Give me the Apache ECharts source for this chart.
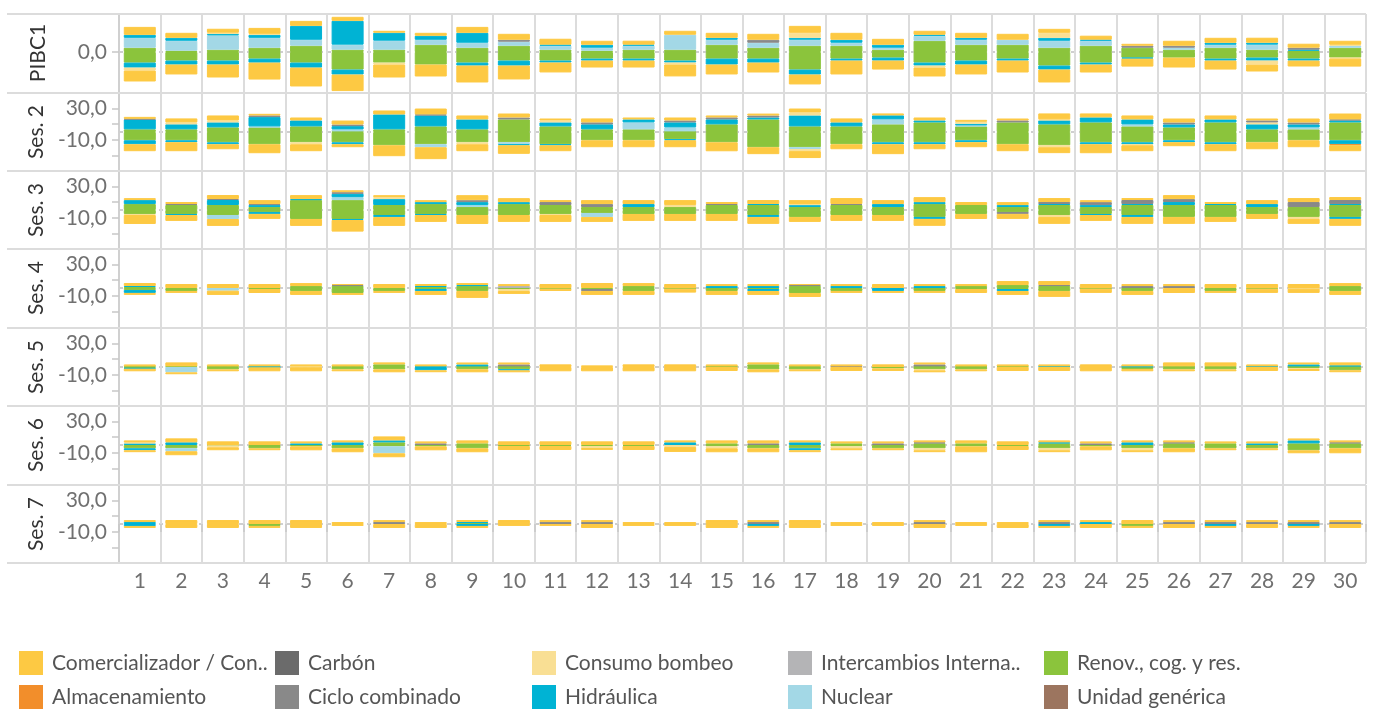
<!DOCTYPE html>
<html>
<head>
<meta charset="utf-8">
<script src="https://cdn.jsdelivr.net/npm/echarts@6/dist/echarts.min.js"></script>
<style>
html,body{margin:0;padding:0;background:#fff;}
#chart{width:1374px;height:709px;}
</style>
</head>
<body>
<div id="chart"></div>
<script>
// ---------------- DATA ----------------
const ROWS = ['PIBC1', 'Ses. 2', 'Ses. 3', 'Ses. 4', 'Ses. 5', 'Ses. 6', 'Ses. 7'];
const DAYS = ['1','2','3','4','5','6','7','8','9','10','11','12','13','14','15','16','17','18','19','20','21','22','23','24','25','26','27','28','29','30'];
const ZERO_ROW = [0,0,0,0,0,0,0,0,0,0,0,0,0,0,0,0,0,0,0,0,0,0,0,0,0,0,0,0,0,0];

// Comercializador / Consumidor (sell > 0, buy < 0), one row of 30 per session
const COM_SELL = [
  [10.2,6.4,5.1,7.6,6.4,5.1,2.5,3.8,7.6,7.6,7.6,5.1,5.1,5.1,6.4,7.6,8.9,8.9,7.6,5.1,6.4,7.6,5.1,5.1,2.5,6.4,6.4,6.4,5.1,5.1],
  [2.5,5.1,6.4,2.1,3.8,5.1,5.1,7.6,5.1,5.1,2.5,5.1,2.5,3.8,2.5,2.5,5.1,5.1,2.5,3.8,2.5,2.5,7.6,5.1,5.1,5.1,5.1,2.5,5.1,7.6],
  [2.5,2.5,5.1,5.1,5.1,2.5,2.5,2.5,6.4,5.1,2.5,5.1,5.1,6.4,2.5,5.1,5.1,7.6,5.1,6.4,3.8,3.8,5.1,2.5,2.5,5.1,2.5,5.1,5.1,3.8],
  [3.8,5.1,5.1,5.1,3.8,1.3,5.1,2.5,2.5,2.5,5.1,6.4,3.8,5.1,2.5,2.5,1.3,2.5,5.1,2.5,2.5,5.1,5.1,5.1,2.5,2.5,5.1,5.1,5.1,3.8],
  [2.5,5.1,2.5,2.5,2.5,2.5,2.5,2.5,2.5,2.5,3.4,2.1,3.4,3.4,2.5,2.5,2.5,2.5,3.4,2.5,2.5,2.5,2.5,3.4,2.5,5.1,5.1,2.5,2.5,3.8],
  [2.5,5.1,4.7,4.7,2.5,2.5,5.1,2.5,3.8,4.7,4.7,4.7,4.7,2.5,3.8,3.8,2.5,2.5,2.5,2.5,3.8,4.7,2.5,2.5,2.5,2.5,2.5,2.5,2.5,2.5],
  [2.5,5.1,5.1,5.1,5.1,2.5,2.5,2.5,2.5,5.1,2.5,2.5,2.5,2.5,5.1,2.5,5.1,2.5,2.5,2.5,2.5,2.5,2.5,2.5,5.1,2.5,2.5,2.5,2.5,2.5]
];
const COM_BUY = [
  [-14,-12.7,-16.6,-21.7,-24.2,-21.2,-16.6,-15.3,-21.7,-17.8,-12.7,-8.9,-8.9,-15.3,-12.7,-12.7,-12.7,-17.8,-11.5,-11.5,-12.7,-15.3,-16.6,-10.2,-10.2,-12.7,-11.5,-8.9,-7.6,-10.2],
  [-8.9,-11.5,-6.4,-11.5,-8.9,-3.8,-14,-15.3,-8.9,-11,-7.6,-8.9,-8.9,-8.9,-11.5,-8.9,-8.9,-6.4,-12.7,-6.4,-6.4,-8.9,-7.6,-11.5,-7.6,-5.1,-8.9,-8.9,-8.9,-7.6],
  [-11.5,-7.6,-8.9,-6.4,-8.9,-14.9,-11.5,-8.9,-11.5,-8.9,-8.9,-6.4,-8.9,-8.9,-8.9,-8.9,-6.4,-7.6,-7.6,-8.9,-6.4,-6.4,-8.9,-7.6,-8.9,-8.9,-6.4,-6.4,-6.4,-8.9],
  [-2.5,-2.5,-5.5,-5.1,-5.1,-2.5,-2.5,-5.1,-8.9,-3.8,-3,-5.1,-5.1,-5.1,-5.1,-5.1,-5.1,-2.5,-2.5,-2.5,-5.1,-5.1,-7.6,-5.5,-5.1,-6.4,-2.5,-5.5,-5.5,-5.1],
  [-3.4,-2.5,-2.5,-5.1,-5.1,-2.5,-3.8,-2.5,-3.8,-2.5,-5.5,-5.5,-5.5,-5.5,-5.1,-3.8,-2.5,-5.1,-3.4,-2.5,-2.5,-5.1,-5.1,-5.5,-3,-2.5,-2.5,-5.1,-2.5,-2.5],
  [-2.5,-5.1,-3.8,-2.5,-5.1,-5.1,-5.1,-5.1,-5.1,-5.1,-5.1,-2.5,-5.1,-6.4,-5.1,-5.1,-2.5,-2.5,-2.5,-2.5,-7.6,-5.1,-2.5,-5.1,-2.5,-5.1,-2.5,-2.5,-3.8,-6.4],
  [-2.5,-5.1,-5.1,-2.5,-5.1,-2.5,-5.1,-5.1,-2.5,-2.5,-2.5,-5.1,-2.5,-2.5,-5.1,-2.5,-5.1,-2.5,-2.5,-5.1,-2.5,-5.1,-2.5,-5.1,-2.5,-5.1,-2.5,-5.1,-2.5,-5.1]
];

// Renov., cog. y res.
const REN_SELL = [
  [5.5,1.7,3,5.5,8.1,3,3,9.3,5.5,8.1,3,1.7,3,3,9.3,5.5,8.1,8.1,3,14.4,9.3,9.3,5.5,8.1,5.5,3,5.5,3,1.7,5.5],
  [3.4,3.4,5.9,5.9,7.2,0.8,3.4,7.2,3.4,16.1,7.2,3.4,3.4,0.8,9.8,16.1,7.2,7.2,9.8,12.3,7.2,12.3,9.8,12.3,7.2,5.9,12.3,3.4,3.4,12.3],
  [7.6,6.4,6.4,3.8,12.7,12.7,6.4,7.6,3.8,7.6,6.4,3.8,3.8,3.8,6.4,6.4,3.8,6.4,3.8,7.6,6.4,3.8,6.4,3.8,6.4,6.4,6.4,3.8,3.8,6.4],
  [1.3,0,0,0,2.5,2.5,0,1.3,2.5,0,0,0,2.5,0,0,0,2.5,0,0,0,2.5,3.8,2.5,0,0,0,0,0,0,2.5],
  [0.8,0.8,0.8,0,0,0.8,3.4,0,0.8,0.8,0,0,0,0,0.8,3.4,0.8,0,0,0.8,0.8,0.8,0,0,0,0.8,0.8,0,0.8,0.8],
  [0,0,0,0,0,0,3.4,0,2.1,0,0,0,0,0,2.1,0,0,2.1,0,2.1,2.1,0,2.1,0,0,2.1,2.1,0,2.1,2.1],
  [0,0,0,0,0,0,0,0,1.3,0,0,0,0,0,0,0,0,0,0,0,0,0,0,0,0,0,0,0,0,0]
];
const REN_BUY = [
  [-13.6,-11,-11,-8.5,-13.6,-22.5,-13.6,-16.1,-13.6,-11,-11,-8.5,-8.5,-11,-8.5,-8.5,-22.5,-8.5,-7.2,-13.6,-11,-8.5,-17.4,-13.6,-7.2,-7.2,-8.5,-7.2,-8.5,-7.2],
  [-10.6,-10.6,-13.2,-15.7,-13.2,-13.2,-17,-15.7,-13.2,-13.2,-15.7,-10.6,-10.6,-9.3,-13.2,-19.5,-19.5,-15.7,-13.2,-13.2,-10.6,-15.7,-17,-13.2,-13.2,-10.6,-13.2,-13.2,-10.6,-10.6],
  [-5.1,-5.1,-6.4,-2.5,-11.5,-11.5,-6.4,-5.1,-6.4,-6.4,-5.1,-3.8,-5.1,-5.1,-5.1,-6.4,-8.9,-6.4,-6.4,-8.9,-5.1,-2.5,-6.4,-5.1,-6.4,-8.9,-8.9,-5.1,-8.9,-8.9],
  [-2.5,-3.8,0,-1.3,-3.8,-6.4,-3.8,-1.3,-3.8,-1.3,-0.8,-1.3,-3.8,-0.8,-3.8,-1.3,-6.4,-3.8,0,-3.8,-1.3,-1.3,-3.8,-0.8,-3.8,0,-3.8,-0.8,0,-3.8],
  [-1.3,0,-3,0,0,-3,-3,0,-3,-3,0,0,0,0,0,-3,-3,0,-1.7,-3,-3,0,0,0,-2.5,-3,-3,0,-1.3,-4.2],
  [-4.2,-4.2,-0.4,-4.2,-1.7,-4.2,-1.7,-1.7,-4.2,-1.3,-1.3,-1.3,-1.3,0,-1.7,-4.2,-4.2,-1.7,-4.2,-4.2,-1.7,-1.3,-4.2,-1.7,-4.2,-4.2,-4.2,-4.2,-6.8,-4.2],
  [0,0,0,-2.5,0,0,0,0,0,0,0,0,0,0,0,0,0,0,0,0,0,0,0,0,-2.5,0,0,0,0,0]
];

// Nuclear
const NUC_SELL = [
  [12.7,12.7,18.3,12.7,7.6,6.4,11.5,6.4,6.4,5.1,5.1,3.8,5.1,19.1,6.4,6.4,7.6,3.8,2.5,6.4,6.4,6.4,8.9,6.4,0,2.5,3.8,6.4,0,2.5],
  [0,0,0,1.3,0,2.5,0,0,0,0,0,0,8.9,5.1,0,0,0,0,6.4,0,1.3,0,0,0,2.5,0,0,0,2.5,0],
  [0,0,0,0,0,3.8,0,0,2.5,0,0,0,0,0,0,0,0,0,0,0,0,0,0,0,0,0,0,0,0,0],
  ZERO_ROW, ZERO_ROW, ZERO_ROW, ZERO_ROW
];
const NUC_BUY = [
  ZERO_ROW,
  [0,0,0,0,0,0,0,-3.8,0,-2.5,0,0,0,0,0,0,-2.5,0,0,0,0,0,0,0,0,0,0,0,0,0],
  [0,0,-5.1,0,0,0,0,0,0,0,0,-5.1,0,0,0,0,0,0,0,0,0,0,0,0,0,0,0,0,0,0],
  [0,0,-3.4,0,0,0,0,0,0,0,0,0,0,0,0,0,0,0,0,0,0,0,0,0,0,0,0,0,0,0],
  [0,-6.8,0,0,0,0,0,0,0,0,0,0,0,0,0,0,0,0,0,0,0,0,0,0,0,0,0,0,0,0],
  [0,-3.8,0,0,0,0,-8.9,0,0,0,0,0,0,0,0,0,0,0,0,0,0,0,0,0,0,0,0,0,0,0],
  ZERO_ROW
];

// Intercambios Internacionales
const INT_SELL = [
  ZERO_ROW, ZERO_ROW, ZERO_ROW,
  [0,0,0,0,0,0,0,0,0,2.5,0,0,0,0,0,0,0,0,0,0,0,0,0,0,0,0,0,0,0,0],
  ZERO_ROW, ZERO_ROW, ZERO_ROW
];
const INT_BUY = [];

// Hidráulica
const HID_SELL = [
  [3.8,3.8,1.7,3.8,17.8,30.6,10.2,5.1,12.7,0,1.3,3.8,1.3,0,2.5,0,2.5,3.8,3.8,1.3,2.5,0,3.8,1.3,0,0,2.5,2.5,1.3,0],
  [12.7,6.4,6.4,11.9,7.6,4.2,19.1,14,12.7,0,5.1,6.4,3.8,6.4,6.4,2.5,14,5.1,5.1,2.5,2.1,0,5.1,6.4,6.4,3.8,3.8,6.4,3.8,2.5],
  [5.1,0,6.4,2.5,1.3,4.2,7.6,2.5,3.8,2.5,0,0,3.8,0,0,1.3,2.5,0,3.8,2.5,0,2.5,1.3,2.5,1.3,3.8,1.3,3.8,0,1.3],
  [1.3,0,0,0,0,0,0,1.3,1.3,0,0,0,0,0,2.5,2.5,0,2.5,0,2.5,0,0,0,0,0,0,0,0,0,0],
  [0,0,0,0.8,0,0,0,0.8,2.5,0,0,0,0,0,0,0,0,0,0,0,0,0,0.8,0,0.8,0,0,0.8,2.5,1.3],
  [2.1,3.4,0,0,2.1,3.4,2.5,0,0,0,0,0,0,3.4,0,0,3.4,0,0,0,0,0,1.3,0,3.4,0,0,2.1,3.8,0],
  [2.5,0,0,0,0,0,0,0,1.3,0,0,0,0,0,0,0,0,0,0,0,0,0,0,2.5,0,0,0,0,0,0]
];
const HID_BUY = [
  [-6.4,-5.1,-5.1,-5.1,-6.4,-6.4,0,0,-3.8,-6.4,-2.5,-2.5,-2.5,-2.5,-7.6,-5.1,-6.4,-2.5,-3.8,-3.8,-5.1,-2.5,-5.1,-2.5,-1.3,0,-2.5,-3.8,-2.5,0],
  [-5.1,-2.5,-2.5,0,0,-2.5,0,0,0,-1.3,-1.3,0,0,-1.3,0,0,0,0,-2.5,-2.5,-2.5,0,0,-2.5,-2.5,-2.5,-2.5,0,0,-5.1],
  [0,-1.3,0,-2.5,0,-1.3,-2.5,-1.3,0,0,0,0,0,0,0,-2.5,0,0,0,-2.5,0,0,0,-1.3,-2.5,0,0,0,0,-2.5],
  [-3.8,0,0,0,0,0,0,-2.5,0,0,0,0,0,0,0,-2.5,0,0,-3.8,0,0,-2.5,0,0,0,0,0,0,0,0],
  [-0.8,0,0,-0.4,0,0,0,-4.2,0,-1.3,0,0,0,0,0,0,0,0,0,0,0,0,0,0,0,0,0,0,0,0],
  [-2.5,0,0,0,0,0,0,0,0,0,0,0,0,0,0,0,-2.5,0,0,0,0,0,0,0,0,0,0,0,0,0],
  [-2.5,0,0,0,0,0,0,0,-2.5,0,0,0,0,0,0,-2.5,0,0,0,0,0,0,-2.5,0,0,0,-2.5,0,-2.5,0]
];

// Consumo bombeo
const CBO_SELL = [
  [0,0,1.7,1.3,0,0,0,0,0,0,0,0,0,0,0,0,6.4,0,0,0,0,0,6.4,0,0,0,0,0,0,1.3],
  [0,2.5,2.5,0,0,0,0,0,0,0,2.5,0,0,0,0,0,3.8,0,0,0,2.5,0,1.3,0,0,0,0,2.5,0,0],
  [0,0,0,0,0,0,2.5,0,0,0,0,0,0,2.5,0,0,1.3,0,0,0,0,0,0,0,0,0,0,0,0,0],
  ZERO_ROW,
  [0,0,0,0,0.8,0,0,0,0,0,0,0,0,0,0,0,0,0,0,0,0,0,0,0,0,0,0,0,0,0],
  [1.3,0,0,0,0,0,0,0,0,0,0,0,0,0,0,0,0,0,0,0,0,0,0,0,0,0,0,0,0,0],
  ZERO_ROW
];
const CBO_BUY = [
  [-3.8,0,0,0,0,0,-2.5,0,0,0,0,0,0,-2.5,0,0,0,0,0,-2.5,0,0,0,0,0,0,0,-5.1,0,-1.3],
  [0,0,0,0,-2.5,0,0,0,-2.5,0,0,0,0,0,0,0,-2.5,0,0,0,0,0,-2.5,0,-1.3,0,0,0,0,0],
  [-1.3,0,0,0,0,0,0,0,0,0,-1.3,0,0,0,0,0,0,0,0,0,0,0,-2.5,0,0,0,0,0,-2.5,0],
  [0,0,0,0,0,0,0,0,0,-2.5,0,0,0,0,0,0,0,0,0,0,0,0,0,0,0,0,0,0,-0.8,0],
  [0,0,0,0,-0.4,0,0,0,0,0,0,0,0,0,0,0,0,0,0,-1.3,0,0,0,0,0,0,0,0,-1.3,0],
  [0,0,-2.5,0,0,0,0,0,0,0,0,-2.5,0,-2.5,-2.5,0,0,-2.5,0,-2.5,0,0,-2.5,0,-2.5,0,0,0,0,0],
  ZERO_ROW
];

// Ciclo combinado
const CCO_SELL = [
  [0,0,0,0,0,0,0,0,0,2.5,0,0,0,0,0,3.8,0,0,0,0,0,0,0,0,2.5,2.5,0,0,2.5,0],
  [0.8,0,0,2.1,0,2.1,0,1.3,0,2.5,0,2.5,0,2.5,2.5,2.5,0,0,0,0,0,2.5,0,0,0,2.5,0,2.5,2.5,1.3],
  [0,1.3,1.3,1.3,0,2.1,0,0,2.5,0,3.8,3.8,0,0,1.3,0,0,1.3,0,0,0,0,2.5,3.8,5.1,3.8,0,0,6.4,5.1],
  [0,0,0,0,0,1.3,0,0,0,0,0,0,0,0,0,0,1.3,0,0,0,0,0,1.3,0,2.5,2.5,0,0,0,0],
  [0,0,0,0,0,0,0,0,0,2.5,0,0,0,0,0,0,0,0.8,0,2.5,0,0,0,0,0,0,0,0,0,0],
  [0,0,0,0,0,0,0,2.1,0,0,0,0,0,0,0,2.1,0,0,2.1,1.3,0,0,0,2.1,0,1.3,0,0,0,1.3],
  [0,0,0,0,0,0,2.5,0,0,0,2.5,2.5,0,0,0,2.5,0,0,0,2.5,0,0,2.5,0,0,2.5,2.5,2.5,2.5,2.5]
];
const CCO_BUY = [
  ZERO_ROW, ZERO_ROW,
  [0,0,0,0,0,0,0,0,0,0,0,0,0,0,0,0,0,0,0,0,0,-2.5,0,0,0,0,0,0,0,0],
  [0,0,0,0,0,0,0,0,0,0,0,-2.5,0,0,0,0,0,0,0,0,0,0,0,0,0,0,0,0,0,0],
  ZERO_ROW, ZERO_ROW, ZERO_ROW
];

// Almacenamiento
const ALM_SELL = [];
const ALM_BUY = [
  ZERO_ROW,
  [0,0,0,0,0,0,0,0,0,0,0,0,0,0,0,0,0,0,0,0,0,0,0,0,0,0,0,0,0,-1.3],
  ZERO_ROW, ZERO_ROW, ZERO_ROW, ZERO_ROW, ZERO_ROW
];
// Carbón, Unidad genérica: no volume in these sessions
const CAR_SELL = [], CAR_BUY = [];
const UNI_SELL = [], UNI_BUY = [];

// Technologies in stacking order (nearest zero first)
const TECHS = [
  { name: 'Unidad genérica',          color: '#9c755f', sell: UNI_SELL, buy: UNI_BUY },
  { name: 'Renov., cog. y res.',      color: '#8bc43c', sell: REN_SELL, buy: REN_BUY },
  { name: 'Nuclear',                  color: '#a3d8e6', sell: NUC_SELL, buy: NUC_BUY },
  { name: 'Intercambios Interna..',   color: '#b4b4b6', sell: INT_SELL, buy: INT_BUY },
  { name: 'Hidráulica',               color: '#00b3d4', sell: HID_SELL, buy: HID_BUY },
  { name: 'Consumo bombeo',           color: '#f9df94', sell: CBO_SELL, buy: CBO_BUY },
  { name: 'Ciclo combinado',          color: '#898989', sell: CCO_SELL, buy: CCO_BUY },
  { name: 'Carbón',                   color: '#6b6b6b', sell: CAR_SELL, buy: CAR_BUY },
  { name: 'Almacenamiento',           color: '#f28e2b', sell: ALM_SELL, buy: ALM_BUY },
  { name: 'Comercializador / Con..',  color: '#fdc943', sell: COM_SELL, buy: COM_BUY }
];

// Legend layout (column-major as in the original)
const LEGEND_COLS = [
  ['Comercializador / Con..', 'Almacenamiento'],
  ['Carbón', 'Ciclo combinado'],
  ['Consumo bombeo', 'Hidráulica'],
  ['Intercambios Interna..', 'Nuclear'],
  ['Renov., cog. y res.', 'Unidad genérica']
];

// Axis ranges per session row
const Y_MIN = [-51.28, -50, -50, -50, -50, -50, -50];
const Y_MAX = [48.72, 50, 50, 50, 50, 50, 50];

// ---------------- LAYOUT ----------------
const FONT = 'Lato, "Open Sans", sans-serif';
const PLOT_LEFT = 119, PLOT_RIGHT = 1366;
const ROW_TOPS = [14, 93, 171, 249, 328, 406, 485];
const ROW_H = 78;
const LINE_C = '#dcdcdc';

const fmt = v => v.toFixed(1).replace('.', ',');

const grids = [], xAxes = [], yAxes = [], zeroAxes = [], series = [];
ROWS.forEach((rowName, r) => {
  const last = r === ROWS.length - 1;
  grids.push({ left: PLOT_LEFT, width: PLOT_RIGHT - PLOT_LEFT, top: ROW_TOPS[r], height: ROW_H, show: false });
  xAxes.push({
    gridIndex: r, type: 'category', data: DAYS,
    axisLine: { show: false },
    axisTick: { show: last, length: 8, lineStyle: { color: '#c8c8c8', width: 1.5 } },
    axisLabel: { show: last, fontSize: 21, color: '#707070', margin: 8, fontFamily: FONT },
    splitLine: { show: true, lineStyle: { color: LINE_C, width: 2 } }
  });
  yAxes.push({
    gridIndex: r, type: 'value', min: Y_MIN[r], max: Y_MAX[r],
    axisLine: { show: true, lineStyle: { color: '#d0d0d0', width: 2 } },
    axisTick: { show: true, length: 7, lineStyle: { color: '#c8c8c8', width: 1.5 },
                customValues: r === 0 ? [0] : [-30, -10, 10, 30] },
    axisLabel: { customValues: r === 0 ? [0] : [30, -10], formatter: fmt,
                 fontSize: 21, color: '#707070', margin: 12, fontFamily: FONT },
    splitLine: { show: false },
    name: rowName, nameLocation: 'middle', nameRotate: 90, nameGap: 70,
    nameTextStyle: { fontSize: 21, color: '#333333', fontFamily: FONT }
  });
  // companion axis used only for the dotted zero line (drawn beneath the bars)
  zeroAxes.push({
    gridIndex: r, type: 'value', position: 'left', min: Y_MIN[r], max: Y_MAX[r],
    axisLine: { show: false },
    axisTick: { show: false, customValues: [0] },
    axisLabel: { show: false, customValues: [0] },
    splitLine: { show: true, lineStyle: { color: '#cfcfcf', type: [4, 4], width: 2 } }
  });
  TECHS.forEach((t) => {
    [t.sell, t.buy].forEach((arr) => {
      // empty cells are left out so they draw nothing
      const vals = (arr[r] || []).map(v => (v === 0 ? '-' : v));
      series.push({
        type: 'bar', name: t.name, xAxisIndex: r, yAxisIndex: r,
        stack: 'row' + r, barWidth: 32, z: 3,
        data: vals,
        // a hairline border in the fill colour closes sub-pixel seams between stacked segments
        itemStyle: { color: t.color, borderColor: t.color, borderWidth: 1 },
        emphasis: { disabled: true }
      });
    });
  });
});

// horizontal separators across label area + plot
const graphics = [];
ROW_TOPS.concat([ROW_TOPS[ROW_TOPS.length - 1] + ROW_H]).forEach((y) => {
  graphics.push({ type: 'line', silent: true, z: 100,
    shape: { x1: 7, y1: y, x2: PLOT_RIGHT, y2: y },
    style: { stroke: LINE_C, lineWidth: 2 } });
});

const legends = [];
const LEG_X = [19, 275, 532, 788, 1044], LEG_Y = [651, 685];
LEGEND_COLS.forEach((col, ci) => {
  col.forEach((name, ri) => {
    legends.push({
      left: LEG_X[ci], top: LEG_Y[ri], padding: 0, itemGap: 0,
      itemWidth: 24, itemHeight: 24, icon: 'rect',
      data: [name],
      itemStyle: { borderWidth: 0 },
      textStyle: { fontSize: 21, color: '#555555', fontFamily: FONT, padding: [0, 0, 0, 4] }
    });
  });
});

const chart = echarts.init(document.getElementById('chart'), null, { renderer: 'canvas' });
chart.setOption({
  animation: false,
  backgroundColor: '#ffffff',
  textStyle: { fontFamily: FONT },
  grid: grids, xAxis: xAxes, yAxis: yAxes.concat(zeroAxes),
  legend: legends,
  graphic: graphics,
  series: series
});
</script>
</body>
</html>
